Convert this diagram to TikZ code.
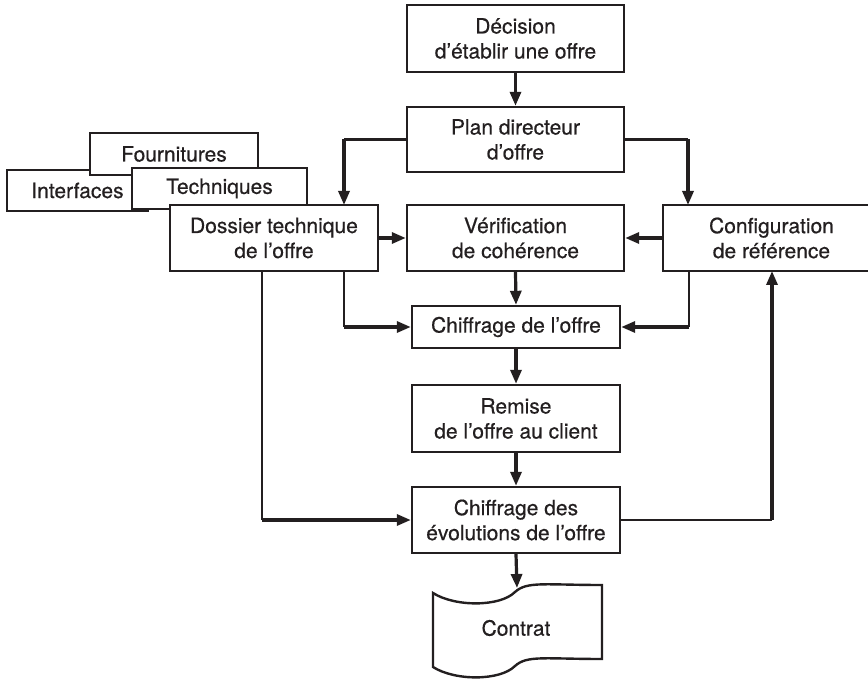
\documentclass[tikz,border=0pt]{standalone}
\usepackage{fontspec}
\setmainfont{TeX Gyre Heros}[FakeBold=0.5]
\usetikzlibrary{arrows.meta}
\definecolor{ink}{HTML}{231F20}
\begin{document}
\begin{tikzpicture}[x=1pt,y=-1pt,
  box/.style={draw=ink, line width=2.4pt, fill=white, align=center, inner sep=0pt,
    text=ink, font=\fontsize{21}{25}\selectfont},
  flow/.style={draw=ink, line width=3.2pt, -{Triangle[length=14pt,width=11pt]}},
  link/.style={draw=ink, line width=2.1pt},
]
\useasboundingbox (0,0) rectangle (868,679);

% stacked document tabs behind the technical file
\node[box, minimum width=141pt, minimum height=41pt] (interf) at (77.5,190.5) {Interfaces};
\node[box, minimum width=168pt, minimum height=42pt] (fourn) at (174,154) {Fournitures};
\node[box, minimum width=175pt, minimum height=41pt] (techn) at (219.5,188.5) {Techniques};

% main steps
\node[box, minimum width=217pt, minimum height=67pt] (dec) at (515.5,38.5) {Décision\\d’établir une offre};
\node[box, minimum width=217pt, minimum height=65pt] (plan) at (515.5,139.5) {Plan directeur\\d’offre};
\node[box, minimum width=208pt, minimum height=66pt] (doss) at (274,238) {Dossier technique\\de l’offre};
\node[box, minimum width=217pt, minimum height=66pt] (verif) at (515.5,238) {Vérification\\de cohérence};
\node[box, minimum width=217pt, minimum height=66pt] (config) at (771.5,238) {Configuration\\de référence};
\node[box, minimum width=208pt, minimum height=42pt] (chif) at (516,327) {Chiffrage de l’offre};
\node[box, minimum width=208pt, minimum height=67pt] (rem) at (516,418.5) {Remise\\de l’offre au client};
\node[box, minimum width=208pt, minimum height=66pt] (evo) at (516,520) {Chiffrage des\\évolutions de l’offre};

% contract document (wavy top and bottom)
\draw[ink, line width=2.4pt, fill=white]
  (433,593) .. controls (455,607) and (500,607) .. (515,592)
  .. controls (527,581) and (545,585) .. (602,585)
  -- (602,659)
  .. controls (545,659) and (527,655) .. (515,666)
  .. controls (500,681) and (455,681) .. (433,667) -- cycle;
\node[text=ink, font=\fontsize{21}{25}\selectfont, inner sep=0pt] (contrat) at (516,628) {Contrat};
\coordinate (contratTop) at (517,588);

% tap points and corners of the routed connectors
\coordinate (dossIn) at (344,205);
\coordinate (dossInC) at (344,139.5);
\coordinate (confIn) at (688,205);
\coordinate (confInC) at (688,139.5);
\coordinate (dossOutA) at (344,271);
\coordinate (dossOutAC) at (344,327);
\coordinate (dossOutB) at (262,271);
\coordinate (dossOutBC) at (262,520);
\coordinate (confOut) at (689,271);
\coordinate (confOutC) at (689,327);
\coordinate (confBack) at (772,271);
\coordinate (confBackC) at (772,520);

% connectors: plain feed segments, heavy arrowed segments
\draw[flow] (dec.south) -- (plan.north);
\draw[link] (plan.west) -- (dossInC);
\draw[flow] (dossInC) -- (dossIn);
\draw[link] (plan.east) -- (confInC);
\draw[flow] (confInC) -- (confIn);
\draw[flow] (doss.east) -- (verif.west);
\draw[flow] (config.west) -- (verif.east);
\draw[flow] (verif.south) -- (chif.north);
\draw[link] (dossOutA) -- (dossOutAC);
\draw[flow] (dossOutAC) -- (chif.west);
\draw[link] (confOut) -- (confOutC);
\draw[flow] (confOutC) -- (chif.east);
\draw[flow] (chif.south) -- (rem.north);
\draw[flow] (rem.south) -- (evo.north);
\draw[link] (dossOutB) -- (dossOutBC);
\draw[flow] (dossOutBC) -- (evo.west);
\draw[link] (evo.east) -- (confBackC);
\draw[flow] (confBackC) -- (confBack);
\draw[flow] (evo.south) -- (contratTop);
\end{tikzpicture}
\end{document}
